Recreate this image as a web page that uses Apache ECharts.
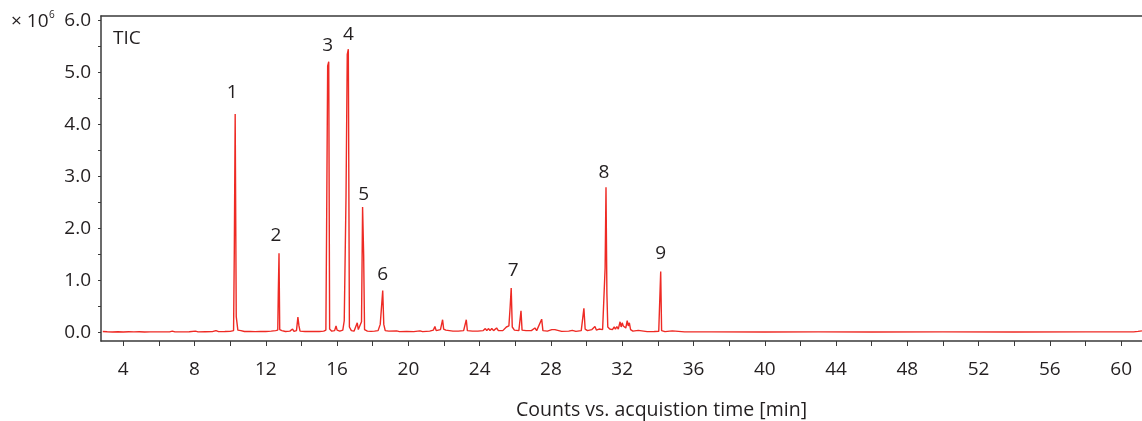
<!DOCTYPE html>
<html>
<head>
<meta charset="utf-8">
<script src="https://cdn.jsdelivr.net/npm/echarts@6/dist/echarts.min.js"></script>
<style>
html,body{margin:0;padding:0;background:#fff;}
#chart{width:1142px;height:421px;}
</style>
</head>
<body>
<div id="chart"></div>
<script>
// ---- data (counts in units of 10^6) ----
const times = [
  2.85,3.1,3.4,3.7,4.0,4.3,4.6,4.9,5.2,5.5,5.9,6.3,6.6,6.75,6.9,7.3,7.7,8.05,8.2,8.6,9.0,9.2,9.35,9.7,10.0,
  10.19,10.23,10.28,10.34,10.38,10.43,10.6,10.8,11.1,11.4,11.7,12.0,12.3,12.55,
  12.67,12.70,12.74,12.78,12.9,13.1,13.35,13.5,13.58,13.72,13.8,13.86,13.92,14.2,14.6,15.0,15.25,
  15.37,15.41,15.47,15.53,15.58,15.7,15.86,15.94,16.0,16.15,16.32,
  16.40,16.46,16.50,16.57,16.63,16.69,16.8,16.95,17.05,17.13,17.19,17.30,17.37,17.43,17.49,17.54,17.7,17.9,18.1,18.3,
  18.42,18.5,18.56,18.62,18.7,18.9,19.34,19.5,19.9,20.3,20.65,20.8,21.2,21.4,21.49,21.56,21.8,21.92,21.98,22.1,22.3,22.5,22.8,
  23.1,23.25,23.31,23.6,23.9,24.2,24.32,24.4,24.5,24.58,24.68,24.78,24.95,25.05,25.3,25.5,25.64,25.71,25.77,25.83,25.95,
  26.2,26.32,26.38,26.6,26.9,27.1,27.2,27.48,27.55,27.8,28.05,28.12,28.22,28.3,28.6,29.0,29.2,29.4,29.7,29.8,29.85,29.92,
  30.05,30.3,30.47,30.55,30.7,30.9,31.0,31.04,31.09,31.14,31.19,31.3,31.38,31.45,31.55,31.62,31.7,31.78,31.88,31.94,
  32.0,32.06,32.12,32.2,32.28,32.34,32.4,32.47,32.6,32.9,33.0,33.4,33.8,34.05,34.11,34.16,34.21,34.4,34.81,34.9,
  35.5,37,40,43,46,50,54,58,60.7,60.95,61.17
];
const counts = [
  0.012,0.008,0.004,0.007,0.003,0.007,0.005,0.009,0.004,0.006,0.005,0.006,0.005,0.02,0.006,0.005,0.007,0.02,0.006,0.008,0.01,0.03,0.01,0.012,0.015,
  0.03,1.53,4.2,0.3,0.3,0.04,0.03,0.012,0.015,0.01,0.015,0.012,0.02,0.03,
  0.04,0.76,1.52,0.05,0.03,0.012,0.02,0.06,0.015,0.03,0.29,0.12,0.02,0.012,0.015,0.012,0.02,
  0.04,1.96,5.13,5.21,0.06,0.02,0.03,0.12,0.04,0.02,0.04,
  0.22,0.24,2.61,5.35,5.45,0.1,0.03,0.02,0.04,0.18,0.05,0.08,0.2,2.41,1.49,0.05,0.02,0.015,0.02,0.03,
  0.15,0.14,0.8,0.15,0.03,0.02,0.025,0.01,0.012,0.01,0.025,0.01,0.02,0.04,0.11,0.03,0.05,0.24,0.06,0.04,0.03,0.02,0.02,
  0.03,0.24,0.03,0.02,0.02,0.03,0.07,0.03,0.07,0.03,0.07,0.03,0.08,0.03,0.03,0.1,0.12,0.48,0.85,0.1,0.04,
  0.03,0.41,0.04,0.03,0.03,0.08,0.03,0.25,0.03,0.02,0.05,0.02,0.05,0.02,0.015,0.02,0.035,0.015,0.03,0.06,0.46,0.06,
  0.03,0.05,0.11,0.04,0.06,0.05,0.08,1.23,2.79,0.75,0.1,0.06,0.09,0.05,0.1,0.06,0.11,0.06,0.2,0.1,
  0.18,0.12,0.15,0.08,0.22,0.12,0.18,0.05,0.02,0.035,0.012,0.01,0.012,0.015,0.03,1.17,0.03,0.01,0.025,0.006,
  0.005,0.005,0.004,0.005,0.004,0.005,0.004,0.005,0.006,0.015,0.025
];
const peakNames = ['1','2','3','4','5','6','7','8','9'];
const peakTimes = [10.28,12.74,15.53,16.63,17.43,18.56,25.77,31.09,34.16];
const peakCounts = [4.2,1.52,5.21,5.45,2.41,0.8,0.85,2.79,1.17];
const yTickValues = [0,0.5,1,1.5,2,2.5,3,3.5,4,4.5,5,5.5,6];
const yLabelValues = [0,1,2,3,4,5,6];
const xTickValues = [4,6,8,10,12,14,16,18,20,22,24,26,28,30,32,34,36,38,40,42,44,46,48,50,52,54,56,58,60];
const xLabelValues = [4,8,12,16,20,24,28,32,36,40,44,48,52,56,60];
const xTitle = 'Counts vs. acquistion time [min]';
const traceName = 'TIC';
const scaleBase = '× 10';
const scaleExp = '6';

// ---- layout / style ----
const FONT = '"Open Sans", "Noto Sans", sans-serif';
const TXT = '#231f20';
const AX = '#3a3a3a';
const RED = '#ee2a24';
const labelGap = [12, 8, 7, 5, 3, 7, 8, 5, 8];
const labelDx = [-3, -3, -1, 0, 1, 0, 2, -2, 0];

const chart = echarts.init(document.getElementById('chart'), null, {renderer: 'canvas'});
const lineData = times.map((t, i) => [t, counts[i]]);
const peakData = peakTimes.map((t, i) => ({
  value: [t, peakCounts[i]],
  label: {formatter: peakNames[i], distance: labelGap[i], offset: [labelDx[i], 0]}
}));

chart.setOption({
  animation: false,
  grid: {left: 101, top: 16, right: 0, bottom: 80, containLabel: false},
  xAxis: [{
    type: 'value', min: 2.75, max: 61.17, position: 'bottom',
    axisLine: {show: true, onZero: false, lineStyle: {color: AX, width: 1.5}},
    axisTick: {show: true, length: 5, lineStyle: {color: AX, width: 1}, customValues: xTickValues},
    axisLabel: {show: true, margin: 19, fontSize: 19, color: TXT, fontFamily: FONT, customValues: xLabelValues},
    splitLine: {show: false}
  }, {
    type: 'value', min: 2.75, max: 61.17, position: 'top',
    axisLine: {show: true, onZero: false, lineStyle: {color: AX, width: 1.5}},
    axisTick: {show: false}, axisLabel: {show: false}, splitLine: {show: false}
  }],
  yAxis: {
    type: 'value', min: -0.17, max: 6.09,
    axisLine: {show: true, onZero: false, lineStyle: {color: AX, width: 1.5}},
    axisTick: {show: true, length: 3, lineStyle: {color: AX, width: 1}, customValues: yTickValues},
    axisLabel: {show: true, margin: 10, fontSize: 19, color: TXT, fontFamily: FONT,
      customValues: yLabelValues, formatter: v => v.toFixed(1)},
    splitLine: {show: false}
  },
  series: [{
    type: 'line', data: lineData, showSymbol: false, symbol: 'none',
    sampling: null, lineStyle: {color: RED, width: 1.4}, z: 3, silent: true
  }, {
    type: 'scatter', data: peakData, symbolSize: 0, silent: true,
    itemStyle: {opacity: 1, color: 'rgba(0,0,0,0)'},
    label: {show: true, position: 'top', fontSize: 19, color: TXT, fontFamily: FONT}
  }],
  graphic: [{
    type: 'text', left: 11, top: 12,
    style: {text: scaleBase, fontSize: 19, fontFamily: FONT, fill: TXT}
  }, {
    type: 'text', left: 49, top: 10,
    style: {text: scaleExp, fontSize: 10, fontFamily: FONT, fill: TXT}
  }, {
    type: 'text', left: 113, top: 29,
    style: {text: traceName, fontSize: 19, fontFamily: FONT, fill: TXT}
  }, {
    type: 'text', left: 516, top: 400,
    style: {text: xTitle, fontSize: 19.5, fontFamily: FONT, fill: TXT}
  }]
});
</script>
</body>
</html>
